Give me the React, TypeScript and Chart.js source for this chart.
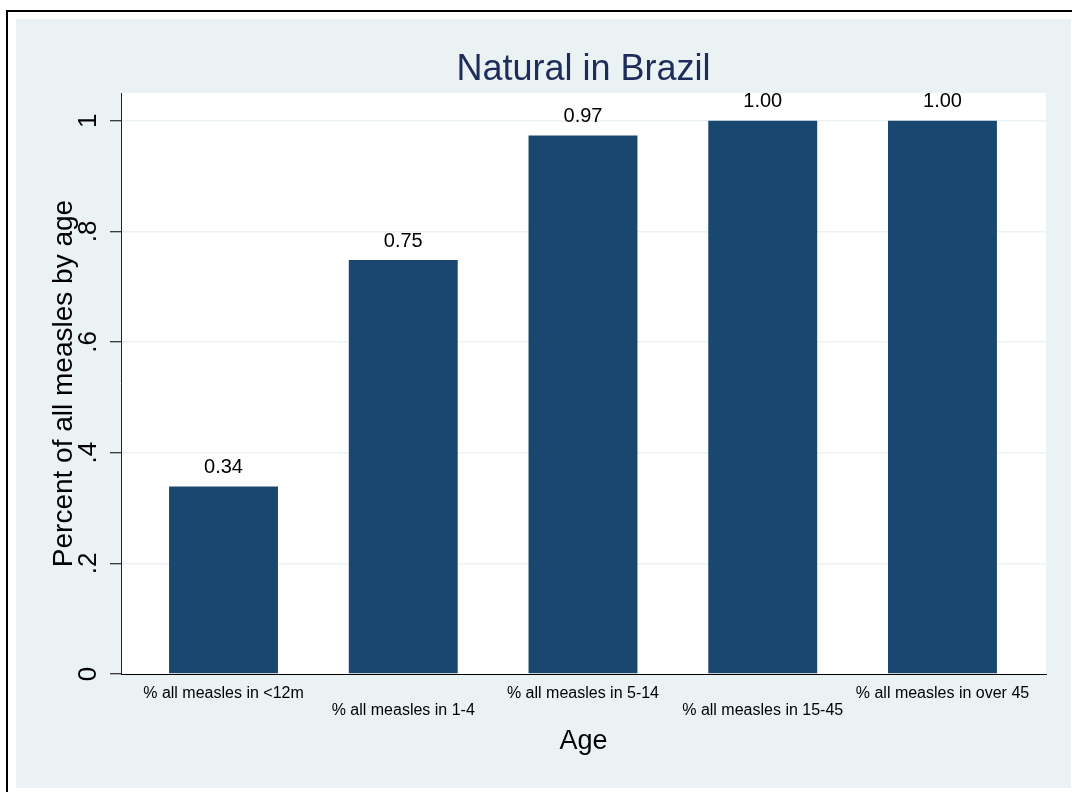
import React, { useEffect, useRef } from 'react';
import { Chart, registerables } from 'chart.js';

Chart.register(...registerables);

const categories = [
  '% all measles in <12m',
  '% all measles in 1-4',
  '% all measles in 5-14',
  '% all measles in 15-45',
  '% all measles in over 45',
];
const values = [0.339, 0.748, 0.973, 1.0, 1.0];
const yTicks = [0, 0.2, 0.4, 0.6, 0.8, 1];
const yTickLabels = ['0', '.2', '.4', '.6', '.8', '1'];
const titleText = 'Natural in Brazil';
const yTitleText = 'Percent of all measles by age';
const xTitleText = 'Age';

const FONT = "'Liberation Sans', Arial, Helvetica, sans-serif";
const BAR = '#1A476F';
const BG = '#EAF2F3';
const TITLE_COLOR = '#1d2c5a';

const backgroundPlugin = {
  id: 'stataBackground',
  beforeDraw(chart: any) {
    const { ctx, width, height, chartArea } = chart;
    ctx.save();
    ctx.fillStyle = '#ffffff';
    ctx.fillRect(0, 0, width, height);
    ctx.fillStyle = '#000000';
    ctx.fillRect(6, 10, 2, height - 10);
    ctx.fillRect(6, 10, width - 6, 2);
    ctx.fillStyle = BG;
    ctx.fillRect(16, 19, width - 17, height - 23);
    ctx.fillStyle = '#ffffff';
    ctx.fillRect(chartArea.left, chartArea.top, chartArea.right - chartArea.left, chartArea.bottom - chartArea.top);
    ctx.restore();
  },
  afterDraw(chart: any) {
    const { ctx, chartArea } = chart;
    ctx.save();
    ctx.fillStyle = TITLE_COLOR;
    ctx.font = `36px ${FONT}`;
    ctx.textAlign = 'center';
    ctx.textBaseline = 'alphabetic';
    ctx.fillText(titleText, (chartArea.left + chartArea.right) / 2, 80);
    ctx.restore();
  },
};

const valueLabelPlugin = {
  id: 'valueLabels',
  afterDatasetsDraw(chart: any) {
    const { ctx } = chart;
    const meta = chart.getDatasetMeta(0);
    ctx.save();
    ctx.fillStyle = '#000000';
    ctx.font = `20px ${FONT}`;
    ctx.textAlign = 'center';
    ctx.textBaseline = 'alphabetic';
    meta.data.forEach((el: any, i: number) => {
      ctx.fillText(values[i].toFixed(2), el.x, el.y - 13.5);
    });
    ctx.restore();
  },
};

export default function App() {
  const canvasRef = useRef<HTMLCanvasElement | null>(null);

  useEffect(() => {
    const canvas = canvasRef.current;
    if (!canvas) return;
    const chart = new Chart(canvas, {
      type: 'bar',
      data: {
        datasets: [
          {
            data: values.map((v, i) => ({ x: i, y: v })),
            backgroundColor: BAR,
            borderWidth: 0,
            categoryPercentage: 1,
            barPercentage: 0.606,
          } as any,
        ],
      },
      options: {
        responsive: false,
        animation: false,
        devicePixelRatio: 1,
        layout: { padding: { left: 0, right: 26, top: 93, bottom: 0 } },
        plugins: {
          legend: { display: false },
          tooltip: { enabled: false },
          title: { display: false },
        },
        scales: {
          x: {
            type: 'linear',
            offset: false,
            min: -0.5703,
            max: 4.576,
            afterBuildTicks: (s: any) => {
              s.ticks = categories.map((_, i) => ({ value: i }));
            },
            afterFit: (s: any) => {
              s.height = 118;
            },
            grid: { display: false, drawTicks: false, offset: false },
            border: { display: true, color: '#000', width: 1 },
            ticks: {
              padding: 11.6,
              color: '#000',
              autoSkip: false,
              minRotation: 0,
              maxRotation: 0,
              font: { family: FONT, size: 16, lineHeight: 1.05 },
              callback: (v: any) => {
                const i = Math.round(Number(v));
                const label = categories[i];
                if (label === undefined) return '';
                return i % 2 === 1 ? ['', label] : label;
              },
            },
            title: {
              display: true,
              text: xTitleText,
              color: '#000',
              font: { family: FONT, size: 27, lineHeight: 1.2 },
              padding: { top: 0, bottom: 33.8 },
            },
          },
          y: {
            type: 'linear',
            min: 0,
            max: 1.05,
            afterBuildTicks: (s: any) => {
              s.ticks = yTicks.map((v) => ({ value: v }));
            },
            afterFit: (s: any) => {
              s.width = 121;
            },
            grid: {
              color: (c: any) => (c.tick && c.tick.value === 0 ? 'rgba(0,0,0,0)' : BG),
              lineWidth: 1.5,
              tickColor: '#000',
              tickLength: 11,
              tickWidth: 1,
              drawTicks: true,
            },
            border: { display: true, color: '#222', width: 1 },
            ticks: {
              padding: 10,
              color: '#000',
              minRotation: 90,
              maxRotation: 90,
              crossAlign: 'center',
              font: { family: FONT, size: 26 },
              callback: (v: any) => {
                const idx = yTicks.findIndex((t) => Math.abs(t - Number(v)) < 1e-9);
                return idx >= 0 ? yTickLabels[idx] : '';
              },
            },
            title: {
              display: true,
              text: yTitleText,
              color: '#000',
              font: { family: FONT, size: 28, lineHeight: 1.2 },
              padding: { top: 47, bottom: 0 },
            },
          },
        },
      } as any,
      plugins: [backgroundPlugin, valueLabelPlugin],
    });
    return () => chart.destroy();
  }, []);

  return (
    <div style={{ position: 'absolute', left: 0, top: 0, width: 1072, height: 792 }}>
      <canvas ref={canvasRef} width={1072} height={792} style={{ display: 'block' }} />
    </div>
  );
}
